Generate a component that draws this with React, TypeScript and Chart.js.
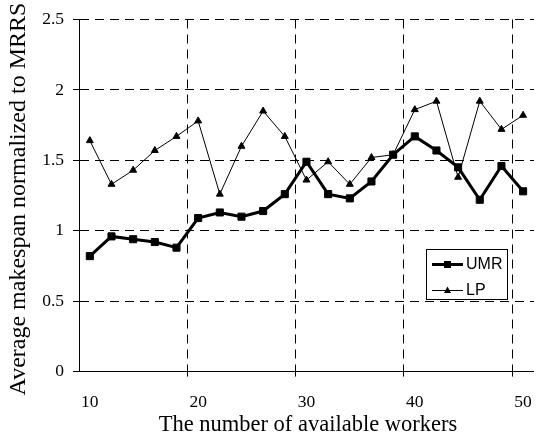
import React, { useEffect, useRef } from 'react';
import { Chart, registerables } from 'chart.js';

Chart.register(...registerables);

// ---- data ----
const workers = ['10', '12', '14', '16', '18', '20', '22', '24', '26', '28', '30', '32', '34', '36', '38', '40', '42', '44', '46', '48', '50'];
const umrValues = [0.82, 0.96, 0.94, 0.92, 0.88, 1.09, 1.13, 1.10, 1.14, 1.26, 1.49, 1.26, 1.23, 1.35, 1.54, 1.67, 1.57, 1.45, 1.22, 1.46, 1.28];
const lpValues = [1.64, 1.33, 1.43, 1.57, 1.67, 1.78, 1.26, 1.60, 1.85, 1.67, 1.36, 1.49, 1.33, 1.52, 1.54, 1.86, 1.92, 1.38, 1.92, 1.72, 1.82];
const seriesNames = ['UMR', 'LP'];
const yTicks = [0, 0.5, 1, 1.5, 2, 2.5];
const xTitle = 'The number of available workers';
const yTitle = 'Average makespan normalized to MRRS';

const SERIF = '"Liberation Serif", "Times New Roman", serif';
const SANS = '"Liberation Sans", Arial, sans-serif';

const titlesPlugin = {
  id: 'axisTitlesCustom',
  afterDraw(chart: any) {
    const ctx = chart.ctx;
    ctx.save();
    ctx.fillStyle = '#000';
    ctx.textAlign = 'center';
    ctx.textBaseline = 'alphabetic';
    // y title
    ctx.save();
    ctx.translate(25, 199);
    ctx.rotate(-Math.PI / 2);
    ctx.font = `24px ${SERIF}`;
    ctx.fillText(yTitle, 0, 0);
    ctx.restore();
    // x title
    ctx.font = `22.5px ${SERIF}`;
    const { left, right } = chart.chartArea;
    ctx.fillText(xTitle, (left + right) / 2 + 1.5, 431);
    ctx.restore();
  },
};

const boxLegendPlugin = {
  id: 'boxLegend',
  afterDraw(chart: any) {
    const ctx = chart.ctx;
    const bx = 426.5, by = 249.5, bw = 81, bh = 50;
    ctx.save();
    ctx.fillStyle = '#fff';
    ctx.fillRect(bx, by, bw, bh);
    ctx.strokeStyle = '#000';
    ctx.lineWidth = 1;
    ctx.strokeRect(bx, by, bw, bh);
    const rows = [264.5, 290.5];
    chart.data.datasets.forEach((ds: any, i: number) => {
      const y = rows[i];
      ctx.strokeStyle = ds.borderColor;
      ctx.lineWidth = ds.borderWidth;
      ctx.beginPath();
      ctx.moveTo(432, y);
      ctx.lineTo(463, y);
      ctx.stroke();
      ctx.fillStyle = ds.pointBackgroundColor;
      const cx = 447.5;
      if (ds.pointStyle === 'rect') {
        ctx.fillRect(cx - 3.5, y - 3.5, 7, 7);
      } else {
        ctx.beginPath();
        ctx.moveTo(cx, y - 4);
        ctx.lineTo(cx + 3.5, y + 2.5);
        ctx.lineTo(cx - 3.5, y + 2.5);
        ctx.closePath();
        ctx.fill();
      }
      ctx.fillStyle = '#000';
      ctx.font = `16px ${SANS}`;
      ctx.textAlign = 'left';
      ctx.textBaseline = 'middle';
      ctx.fillText(ds.label, 466, y);
    });
    ctx.restore();
  },
};

export default function App() {
  const ref = useRef<HTMLCanvasElement>(null);

  useEffect(() => {
    if (!ref.current) return;
    const chart = new Chart(ref.current, {
      type: 'line',
      data: {
        labels: workers,
        datasets: [
          {
            label: seriesNames[0],
            data: umrValues,
            borderColor: '#000',
            backgroundColor: '#000',
            borderWidth: 3,
            pointStyle: 'rect',
            pointRadius: 5,
            pointBorderWidth: 1,
            pointBackgroundColor: '#000',
            pointBorderColor: '#000',
            tension: 0,
            fill: false,
          },
          {
            label: seriesNames[1],
            data: lpValues,
            borderColor: '#000',
            backgroundColor: '#000',
            borderWidth: 1,
            pointStyle: 'triangle',
            pointRadius: 4,
            pointBorderWidth: 1,
            pointBackgroundColor: '#000',
            pointBorderColor: '#000',
            tension: 0,
            fill: false,
          },
        ],
      },
      options: {
        responsive: false,
        animation: false,
        devicePixelRatio: 1,
        layout: { padding: { top: 14, left: 0, right: 0, bottom: 0 } },
        plugins: {
          legend: { display: false },
          tooltip: { enabled: false },
        },
        scales: {
          x: {
            type: 'category',
            offset: true,
            grid: {
              offset: true,
              color: (c: any) =>
                typeof c.index === 'number' && c.index % 5 === 0 && c.index > 0 && c.index < workers.length ? '#000' : 'rgba(0,0,0,0)',
              tickColor: (c: any) =>
                typeof c.index === 'number' && c.index % 5 === 0 && c.index > 0 && c.index < workers.length ? '#000' : 'rgba(0,0,0,0)',
              lineWidth: 1,
              tickLength: 5,
              drawTicks: true,
            },
            border: { display: true, color: '#000', width: 1, dash: [9, 6] },
            ticks: {
              autoSkip: false,
              maxRotation: 0,
              minRotation: 0,
              padding: 15,
              color: '#000',
              font: { family: SERIF, size: 17.5 },
              callback: (_v: any, i: number) => (i % 5 === 0 ? workers[i] : ''),
            },
            afterFit: (s: any) => {
              s.height = 64.4;
            },
          },
          y: {
            min: 0,
            max: 2.5,
            afterBuildTicks: (s: any) => {
              s.ticks = yTicks.map((v) => ({ value: v }));
            },
            grid: {
              color: (c: any) => (c.tick && c.tick.value === 0 ? 'rgba(0,0,0,0)' : '#000'),
              tickColor: '#000',
              lineWidth: 1,
              tickLength: 6,
            },
            border: { display: true, color: '#000', width: 1, dash: [9, 6] },
            ticks: {
              padding: 9,
              color: '#000',
              font: { family: SERIF, size: 17.5 },
              callback: (v: any) => String(v),
            },
            afterFit: (s: any) => {
              s.width = 79;
            },
          },
        },
      },
      plugins: [titlesPlugin, boxLegendPlugin],
    } as any);
    return () => chart.destroy();
  }, []);

  return (
    <div style={{ position: 'absolute', left: 0, top: 0, width: 547, height: 436, background: '#fff' }}>
      <canvas ref={ref} width={547} height={436} style={{ display: 'block' }} />
    </div>
  );
}
